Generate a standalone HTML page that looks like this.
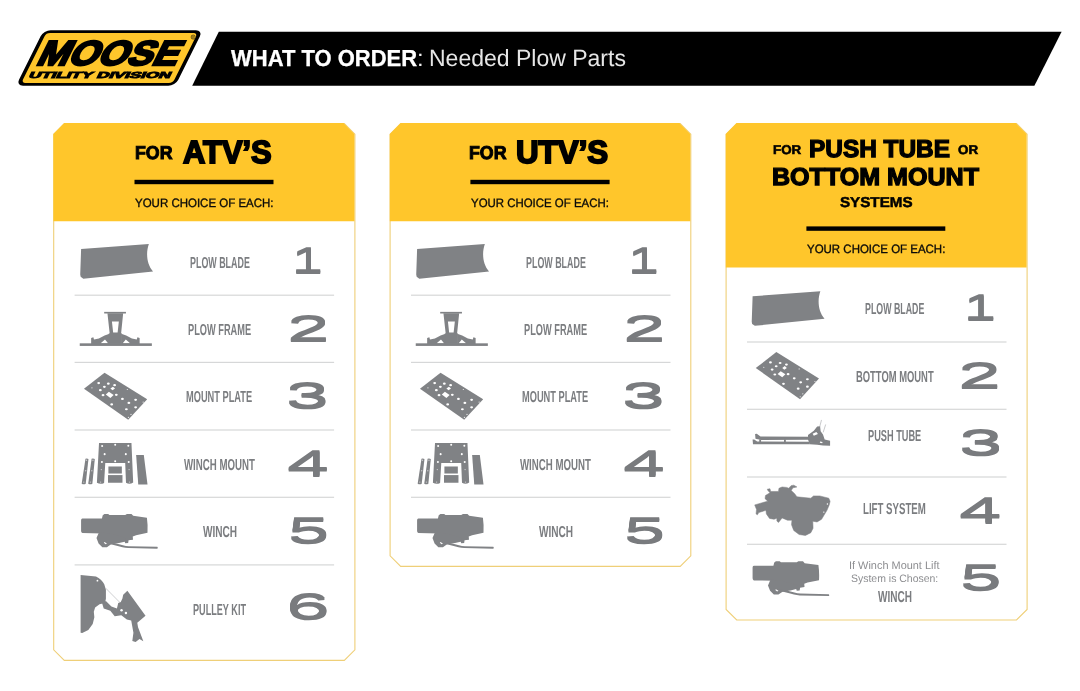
<!DOCTYPE html>
<html lang="en">
<head>
<meta charset="utf-8">
<title>What to Order: Needed Plow Parts</title>
<style>
h1,h2,ul,li,header,main,section,div{margin:0;padding:0;font-size:inherit;font-weight:inherit;list-style:none;}
html,body{margin:0;padding:0;background:#fff;}
body{width:1080px;height:691px;position:relative;overflow:hidden;font-family:"Liberation Sans", sans-serif;}
#page{position:absolute;left:0;top:0;width:1080px;height:691px;will-change:transform;}
#bg{position:absolute;left:0;top:0;width:1080px;height:691px;}
.t{position:absolute;white-space:pre;line-height:1;transform-origin:0 0;text-rendering:geometricPrecision;font-family:"Liberation Sans", sans-serif;font-weight:700;}
</style>
</head>
<body>
<svg id="bg" width="1080" height="691" viewBox="0 0 1080 691">
<polygon points="218.8,31.8 1061.6,31.8 1034.4,85.7 192.2,85.7" fill="#000"/>
<polygon points="64.3,123.6 344.3,123.6 354.9,134.2 354.9,649.8 344.3,660.4 64.3,660.4 53.7,649.8 53.7,134.2" fill="#fff" stroke="#efcf78" stroke-width="1.1"/>
<polygon points="64.3,123.1 343.5,123.1 354.4,134.0 354.4,221.3 53.4,221.3 53.4,134.0" fill="#ffc62b"/>
<rect x="134.5" y="179.8" width="139.0" height="4.4" fill="#000"/>
<rect x="74.6" y="294.6" width="259.5" height="1.2" fill="#d6d7d8"/>
<rect x="74.6" y="361.8" width="259.5" height="1.2" fill="#d6d7d8"/>
<rect x="74.6" y="429.4" width="259.5" height="1.2" fill="#d6d7d8"/>
<rect x="74.6" y="496.7" width="259.5" height="1.2" fill="#d6d7d8"/>
<rect x="74.6" y="564.3" width="259.5" height="1.2" fill="#d6d7d8"/>
<polygon points="400.7,123.6 680.2,123.6 690.8,134.2 690.8,555.8 680.2,566.4 400.7,566.4 390.1,555.8 390.1,134.2" fill="#fff" stroke="#efcf78" stroke-width="1.1"/>
<polygon points="400.7,123.1 679.4,123.1 690.3,134.0 690.3,221.3 389.8,221.3 389.8,134.0" fill="#ffc62b"/>
<rect x="470.4" y="179.8" width="139.2" height="4.4" fill="#000"/>
<rect x="411.0" y="294.6" width="259.5" height="1.2" fill="#d6d7d8"/>
<rect x="411.0" y="361.8" width="259.5" height="1.2" fill="#d6d7d8"/>
<rect x="411.0" y="429.4" width="259.5" height="1.2" fill="#d6d7d8"/>
<rect x="411.0" y="496.7" width="259.5" height="1.2" fill="#d6d7d8"/>
<polygon points="736.7,123.6 1016.5,123.6 1027.1,134.2 1027.1,609.4 1016.5,620.0 736.7,620.0 726.1,609.4 726.1,134.2" fill="#fff" stroke="#efcf78" stroke-width="1.1"/>
<polygon points="736.7,123.1 1015.7,123.1 1026.6,134.0 1026.6,267.6 725.8,267.6 725.8,134.0" fill="#ffc62b"/>
<rect x="806.4" y="226.4" width="138.9" height="4.4" fill="#000"/>
<rect x="747.0" y="341.4" width="259.5" height="1.2" fill="#d6d7d8"/>
<rect x="747.0" y="408.7" width="259.5" height="1.2" fill="#d6d7d8"/>
<rect x="747.0" y="476.4" width="259.5" height="1.2" fill="#d6d7d8"/>
<rect x="747.0" y="543.7" width="259.5" height="1.2" fill="#d6d7d8"/>
<g transform="translate(0 85.7) skewX(-26.5) translate(0 -85.7)"><rect x="16.0" y="30.3" width="159.3" height="55.400000000000006" rx="7" ry="6" fill="#000"/><rect x="19.9" y="33.1" width="151.5" height="49.800000000000004" rx="4" ry="3.4" fill="#ffc62b"/></g><circle cx="193.2" cy="37.1" r="2.1" fill="none" stroke="#6b5410" stroke-width="0.8"/>
<g transform="translate(70 235) scale(0.08889)" fill="#808285"><path d="M125,158 L887,102 C852,200 862,330 934,410 L150,491 L120,470 L115,445 Z"/></g>
<g transform="translate(72 306) scale(0.08148)" fill="#808285"><rect x="95" y="458" width="885" height="32"/><rect x="395" y="72" width="267" height="20"/><path fill-rule="evenodd" d="M435,88 L628,88 L602,345 L463,345 Z M490,190 L575,190 L560,325 L505,325 Z"/><rect x="452" y="336" width="160" height="130"/><path fill-rule="evenodd" d="M235,465 L235,392 L262,385 L270,412 L330,398 L400,362 L460,342 L460,465 Z M352,458 L405,412 L442,458 Z"/><path fill-rule="evenodd" d="M830,465 L830,392 L803,385 L795,412 L735,398 L665,362 L605,342 L605,465 Z M713,458 L660,412 L623,458 Z"/></g>
<g transform="translate(76 366) scale(0.08395)" fill="#808285"><path d="M95,270 L340,80 L848,395 L622,640 Z"/><ellipse cx="270" cy="203" rx="17" ry="13" fill="#fff"/><ellipse cx="385" cy="210" rx="17" ry="13" fill="#fff"/><ellipse cx="460" cy="228" rx="17" ry="13" fill="#fff"/><ellipse cx="338" cy="248" rx="17" ry="13" fill="#fff"/><ellipse cx="290" cy="288" rx="17" ry="13" fill="#fff"/><ellipse cx="322" cy="347" rx="17" ry="13" fill="#fff"/><ellipse cx="480" cy="343" rx="17" ry="13" fill="#fff"/><ellipse cx="553" cy="392" rx="17" ry="13" fill="#fff"/><ellipse cx="425" cy="458" rx="17" ry="13" fill="#fff"/><ellipse cx="630" cy="440" rx="17" ry="13" fill="#fff"/><ellipse cx="710" cy="403" rx="17" ry="13" fill="#fff"/><ellipse cx="710" cy="492" rx="17" ry="13" fill="#fff"/><ellipse cx="600" cy="515" rx="17" ry="13" fill="#fff"/><ellipse cx="612" cy="280" rx="8" ry="7" fill="#fff" opacity="0.8"/><ellipse cx="655" cy="577" rx="8" ry="7" fill="#fff" opacity="0.8"/><ellipse cx="625" cy="612" rx="8" ry="7" fill="#fff" opacity="0.8"/><ellipse cx="800" cy="430" rx="8" ry="7" fill="#fff" opacity="0.8"/><ellipse cx="190" cy="260" rx="8" ry="7" fill="#fff" opacity="0.8"/><path d="M410,268 L440,246 L465,268 L435,290 Z" fill="#fff"/><path d="M355,340 L392,308 L448,345 L410,380 Z" fill="#fff"/></g>
<g transform="translate(74 436) scale(0.07817)" fill="#808285"><path d="M147,292 Q165,285 185,294 L150,610 Q125,625 98,610 Z"/><path d="M225,292 Q245,285 266,294 L235,610 Q210,625 182,610 Z"/><path d="M320,90 L735,90 L757,595 Q712,625 665,598 L655,345 L400,345 L385,600 Q340,625 293,598 Z"/><rect x="440" y="390" width="172" height="90"/><rect x="435" y="500" width="185" height="98"/><path d="M795,243 L893,243 L940,622 L822,622 Z"/><circle cx="360" cy="127" r="13" fill="#fff"/><circle cx="527" cy="112" r="13" fill="#fff"/><circle cx="695" cy="125" r="13" fill="#fff"/><circle cx="392" cy="232" r="13" fill="#fff"/><circle cx="663" cy="232" r="13" fill="#fff"/><circle cx="357" cy="332" r="13" fill="#fff"/><circle cx="527" cy="322" r="13" fill="#fff"/><circle cx="700" cy="332" r="13" fill="#fff"/><circle cx="350" cy="430" r="9" fill="#c9cacc"/><circle cx="705" cy="430" r="9" fill="#c9cacc"/><circle cx="340" cy="590" r="9" fill="#c9cacc"/><circle cx="710" cy="590" r="9" fill="#c9cacc"/><circle cx="125" cy="590" r="9" fill="#c9cacc"/><circle cx="210" cy="590" r="9" fill="#c9cacc"/><circle cx="150" cy="445" r="9" fill="#c9cacc"/><circle cx="228" cy="445" r="9" fill="#c9cacc"/><circle cx="160" cy="310" r="9" fill="#c9cacc"/><circle cx="243" cy="310" r="9" fill="#c9cacc"/></g>
<g transform="translate(74 506) scale(0.08333)" fill="#808285"><path d="M100,150 L335,150 L345,110 L365,95 L410,95 L425,108 L615,108 L635,95 L690,95 L710,118 L875,140 Q888,230 882,322 L745,350 L705,365 L708,405 L655,412 L650,445 L615,448 L605,420 L500,422 L430,400 L340,330 L100,325 Q85,320 85,300 L85,170 Q85,152 100,150 Z"/><path d="M300,315 L270,385 L295,450 L340,495 L395,495 L445,460 L540,445 L620,425 L620,380 L440,330 Z"/><path d="M360,425 C480,430 560,475 660,482 L1000,490 Q1012,500 1000,512 L650,505 C560,500 470,455 360,450 Z"/><path d="M365,432 L395,450 L380,458 L358,440 Z" fill="#fff"/></g>
<g transform="translate(74 570) scale(0.11004)" fill="#808285"><path d="M60,45 L200,60 Q250,85 275,130 L290,180 L290,262 L282,300 L232,312 L192,340 L180,380 L185,430 L170,490 L130,545 L75,572 L60,570 Z"/><path d="M255,300 L290,282 L340,332 L390,350 L402,300 L425,290 L440,260 L447,225 L485,188 L650,415 L575,480 L582,520 L630,648 L595,628 L560,655 L530,645 L540,570 L520,460 L480,450 L430,412 L370,420 L330,370 L270,350 Z"/><path d="M288,165 L420,298" stroke="#a5a7aa" stroke-width="5" fill="none"/><circle cx="432" cy="365" r="11" fill="#fff"/><circle cx="472" cy="390" r="11" fill="#fff"/><circle cx="213" cy="97" r="8" fill="#fff"/></g>
<g transform="translate(406 235) scale(0.08889)" fill="#808285"><path d="M125,158 L887,102 C852,200 862,330 934,410 L150,491 L120,470 L115,445 Z"/></g>
<g transform="translate(408 306) scale(0.08148)" fill="#808285"><rect x="95" y="458" width="885" height="32"/><rect x="395" y="72" width="267" height="20"/><path fill-rule="evenodd" d="M435,88 L628,88 L602,345 L463,345 Z M490,190 L575,190 L560,325 L505,325 Z"/><rect x="452" y="336" width="160" height="130"/><path fill-rule="evenodd" d="M235,465 L235,392 L262,385 L270,412 L330,398 L400,362 L460,342 L460,465 Z M352,458 L405,412 L442,458 Z"/><path fill-rule="evenodd" d="M830,465 L830,392 L803,385 L795,412 L735,398 L665,362 L605,342 L605,465 Z M713,458 L660,412 L623,458 Z"/></g>
<g transform="translate(412 366) scale(0.08395)" fill="#808285"><path d="M95,270 L340,80 L848,395 L622,640 Z"/><ellipse cx="270" cy="203" rx="17" ry="13" fill="#fff"/><ellipse cx="385" cy="210" rx="17" ry="13" fill="#fff"/><ellipse cx="460" cy="228" rx="17" ry="13" fill="#fff"/><ellipse cx="338" cy="248" rx="17" ry="13" fill="#fff"/><ellipse cx="290" cy="288" rx="17" ry="13" fill="#fff"/><ellipse cx="322" cy="347" rx="17" ry="13" fill="#fff"/><ellipse cx="480" cy="343" rx="17" ry="13" fill="#fff"/><ellipse cx="553" cy="392" rx="17" ry="13" fill="#fff"/><ellipse cx="425" cy="458" rx="17" ry="13" fill="#fff"/><ellipse cx="630" cy="440" rx="17" ry="13" fill="#fff"/><ellipse cx="710" cy="403" rx="17" ry="13" fill="#fff"/><ellipse cx="710" cy="492" rx="17" ry="13" fill="#fff"/><ellipse cx="600" cy="515" rx="17" ry="13" fill="#fff"/><ellipse cx="612" cy="280" rx="8" ry="7" fill="#fff" opacity="0.8"/><ellipse cx="655" cy="577" rx="8" ry="7" fill="#fff" opacity="0.8"/><ellipse cx="625" cy="612" rx="8" ry="7" fill="#fff" opacity="0.8"/><ellipse cx="800" cy="430" rx="8" ry="7" fill="#fff" opacity="0.8"/><ellipse cx="190" cy="260" rx="8" ry="7" fill="#fff" opacity="0.8"/><path d="M410,268 L440,246 L465,268 L435,290 Z" fill="#fff"/><path d="M355,340 L392,308 L448,345 L410,380 Z" fill="#fff"/></g>
<g transform="translate(410 436) scale(0.07817)" fill="#808285"><path d="M147,292 Q165,285 185,294 L150,610 Q125,625 98,610 Z"/><path d="M225,292 Q245,285 266,294 L235,610 Q210,625 182,610 Z"/><path d="M320,90 L735,90 L757,595 Q712,625 665,598 L655,345 L400,345 L385,600 Q340,625 293,598 Z"/><rect x="440" y="390" width="172" height="90"/><rect x="435" y="500" width="185" height="98"/><path d="M795,243 L893,243 L940,622 L822,622 Z"/><circle cx="360" cy="127" r="13" fill="#fff"/><circle cx="527" cy="112" r="13" fill="#fff"/><circle cx="695" cy="125" r="13" fill="#fff"/><circle cx="392" cy="232" r="13" fill="#fff"/><circle cx="663" cy="232" r="13" fill="#fff"/><circle cx="357" cy="332" r="13" fill="#fff"/><circle cx="527" cy="322" r="13" fill="#fff"/><circle cx="700" cy="332" r="13" fill="#fff"/><circle cx="350" cy="430" r="9" fill="#c9cacc"/><circle cx="705" cy="430" r="9" fill="#c9cacc"/><circle cx="340" cy="590" r="9" fill="#c9cacc"/><circle cx="710" cy="590" r="9" fill="#c9cacc"/><circle cx="125" cy="590" r="9" fill="#c9cacc"/><circle cx="210" cy="590" r="9" fill="#c9cacc"/><circle cx="150" cy="445" r="9" fill="#c9cacc"/><circle cx="228" cy="445" r="9" fill="#c9cacc"/><circle cx="160" cy="310" r="9" fill="#c9cacc"/><circle cx="243" cy="310" r="9" fill="#c9cacc"/></g>
<g transform="translate(410 506) scale(0.08333)" fill="#808285"><path d="M100,150 L335,150 L345,110 L365,95 L410,95 L425,108 L615,108 L635,95 L690,95 L710,118 L875,140 Q888,230 882,322 L745,350 L705,365 L708,405 L655,412 L650,445 L615,448 L605,420 L500,422 L430,400 L340,330 L100,325 Q85,320 85,300 L85,170 Q85,152 100,150 Z"/><path d="M300,315 L270,385 L295,450 L340,495 L395,495 L445,460 L540,445 L620,425 L620,380 L440,330 Z"/><path d="M360,425 C480,430 560,475 660,482 L1000,490 Q1012,500 1000,512 L650,505 C560,500 470,455 360,450 Z"/><path d="M365,432 L395,450 L380,458 L358,440 Z" fill="#fff"/></g>
<g transform="translate(741.5 282.2) scale(0.08889)" fill="#808285"><path d="M125,158 L887,102 C852,200 862,330 934,410 L150,491 L120,470 L115,445 Z"/></g>
<g transform="translate(747.8 345.4) scale(0.08395)" fill="#808285"><path d="M95,270 L340,80 L848,395 L622,640 Z"/><ellipse cx="270" cy="203" rx="17" ry="13" fill="#fff"/><ellipse cx="385" cy="210" rx="17" ry="13" fill="#fff"/><ellipse cx="460" cy="228" rx="17" ry="13" fill="#fff"/><ellipse cx="338" cy="248" rx="17" ry="13" fill="#fff"/><ellipse cx="290" cy="288" rx="17" ry="13" fill="#fff"/><ellipse cx="322" cy="347" rx="17" ry="13" fill="#fff"/><ellipse cx="480" cy="343" rx="17" ry="13" fill="#fff"/><ellipse cx="553" cy="392" rx="17" ry="13" fill="#fff"/><ellipse cx="425" cy="458" rx="17" ry="13" fill="#fff"/><ellipse cx="630" cy="440" rx="17" ry="13" fill="#fff"/><ellipse cx="710" cy="403" rx="17" ry="13" fill="#fff"/><ellipse cx="710" cy="492" rx="17" ry="13" fill="#fff"/><ellipse cx="600" cy="515" rx="17" ry="13" fill="#fff"/><ellipse cx="612" cy="280" rx="8" ry="7" fill="#fff" opacity="0.8"/><ellipse cx="655" cy="577" rx="8" ry="7" fill="#fff" opacity="0.8"/><ellipse cx="625" cy="612" rx="8" ry="7" fill="#fff" opacity="0.8"/><ellipse cx="800" cy="430" rx="8" ry="7" fill="#fff" opacity="0.8"/><ellipse cx="190" cy="260" rx="8" ry="7" fill="#fff" opacity="0.8"/><path d="M410,268 L440,246 L465,268 L435,290 Z" fill="#fff"/><path d="M355,340 L392,308 L448,345 L410,380 Z" fill="#fff"/></g>
<g transform="translate(748 412) scale(0.08333)" fill="#808285"><path d="M85,265 L105,262 L150,295 L740,298 L740,332 L160,335 L90,320 Z"/><path d="M55,330 L75,330 L110,355 L740,358 L740,387 L60,387 Z"/><rect x="135" y="328" width="22" height="34"/><rect x="432" y="328" width="22" height="34"/><path fill-rule="evenodd" d="M720,275 L790,225 L830,175 L865,170 L872,230 L900,270 L920,330 L985,345 L985,405 L900,402 L830,392 L740,387 L720,330 Z M775,262 L820,240 L840,265 L790,285 Z M865,355 L895,360 L890,375 L862,370 Z"/><path d="M882,95 L860,180 M932,150 L902,245" stroke="#a0a2a5" stroke-width="7" fill="none"/></g>
<g transform="translate(748 478) scale(0.08973)" fill="#808285"><path d="M75,300 L220,258 L190,230 L195,195 L245,165 L222,140 L215,125 L245,120 L252,150 L340,150 L345,115 L380,100 L430,105 L455,115 L480,85 L510,80 L545,100 L500,110 L482,140 L520,175 L545,210 L700,225 L730,200 L800,200 L900,225 L915,260 L905,300 L880,360 L850,410 L820,460 L770,490 L722,482 L725,560 L700,610 L640,640 L570,630 L510,585 L485,520 L490,470 L440,470 L380,445 L340,495 L322,480 L322,448 L290,460 L240,450 L205,400 L200,360 L120,385 L105,410 L90,400 L95,350 Z" stroke="#808285" stroke-width="6" stroke-linejoin="round"/><circle cx="885" cy="290" r="8" fill="#fff"/><circle cx="845" cy="380" r="8" fill="#fff"/></g>
<g transform="translate(745.5 553.3) scale(0.08333)" fill="#808285"><path d="M100,150 L335,150 L345,110 L365,95 L410,95 L425,108 L615,108 L635,95 L690,95 L710,118 L875,140 Q888,230 882,322 L745,350 L705,365 L708,405 L655,412 L650,445 L615,448 L605,420 L500,422 L430,400 L340,330 L100,325 Q85,320 85,300 L85,170 Q85,152 100,150 Z"/><path d="M300,315 L270,385 L295,450 L340,495 L395,495 L445,460 L540,445 L620,425 L620,380 L440,330 Z"/><path d="M360,425 C480,430 560,475 660,482 L1000,490 Q1012,500 1000,512 L650,505 C560,500 470,455 360,450 Z"/><path d="M365,432 L395,450 L380,458 L358,440 Z" fill="#fff"/></g>
</svg>
<div id="page">
<header>
<div class="logo"><span class="t" style="left:34.89px;top:36.65px;font-size:34.70px;color:#000;transform-origin:0 28.00px;transform:skewX(-26.5deg) scaleX(1.0904);-webkit-text-stroke:2.3px #000;">MOOSE</span>
<span class="t" style="left:28.37px;top:71.05px;font-size:8.82px;color:#000;transform-origin:0 7.00px;transform:skewX(-26.5deg) scaleX(1.9116);-webkit-text-stroke:0.9px #000;">UTILITY DIVISION</span>
<span class="t" style="left:191.11px;top:36.00px;font-size:5.69px;color:#5a4a10;transform:scaleX(0.9781);">®</span></div>
<h1><span class="t" style="left:230.54px;top:46.95px;font-size:23.18px;color:#fff;transform:scaleX(0.9489);-webkit-text-stroke:0.3px #fff;">WHAT TO ORDER</span>
<span class="t" style="left:417.34px;top:47.10px;font-size:23.15px;font-weight:400;color:#f0f0f0;transform:scaleX(1.0268);">:</span>
<span class="t" style="left:428.80px;top:47.10px;font-size:23.47px;font-weight:400;color:#e6e6e6;transform:scaleX(0.9801);">Needed Plow Parts</span></h1>
</header>
<main>
<section class="card">
<h2><span class="t" style="left:134.77px;top:144.10px;font-size:18.63px;color:#000;transform:scaleX(0.9535);-webkit-text-stroke:1.0px #000;">FOR</span>
<span class="t" style="left:182.63px;top:136.45px;font-size:32.00px;color:#000;transform:scaleX(0.9652);-webkit-text-stroke:1.9px #000;">ATV’S</span>
<span class="t" style="left:135.29px;top:196.72px;font-size:12.16px;font-weight:400;color:#0a0a0a;transform:scaleX(0.9453);-webkit-text-stroke:0.35px #0a0a0a;">YOUR CHOICE OF EACH:</span></h2>
<ul>
<li><span class="t" style="left:189.94px;top:255.65px;font-size:15.93px;color:#7b7d80;transform:scaleX(0.5593);">PLOW BLADE</span>
<span class="t" style="left:292.32px;top:242.85px;font-size:35.98px;font-weight:400;color:#797b7e;transform:scaleX(1.5457);text-shadow:0 1.0px 0 #797b7e,0 -1.0px 0 #797b7e;">1</span></li>
<li><span class="t" style="left:188.02px;top:322.90px;font-size:15.93px;color:#7b7d80;transform:scaleX(0.5799);">PLOW FRAME</span>
<span class="t" style="left:286.50px;top:311.05px;font-size:35.98px;font-weight:400;color:#797b7e;transform:scaleX(2.1345);text-shadow:0 1.0px 0 #797b7e,0 -1.0px 0 #797b7e;">2</span></li>
<li><span class="t" style="left:186.42px;top:390.30px;font-size:15.93px;color:#7b7d80;transform:scaleX(0.5807);">MOUNT PLATE</span>
<span class="t" style="left:286.39px;top:378.45px;font-size:35.98px;font-weight:400;color:#797b7e;transform:scaleX(2.1403);text-shadow:0 1.0px 0 #797b7e,0 -1.0px 0 #797b7e;">3</span></li>
<li><span class="t" style="left:184.10px;top:457.90px;font-size:15.93px;color:#7b7d80;transform:scaleX(0.6071);">WINCH MOUNT</span>
<span class="t" style="left:287.12px;top:445.90px;font-size:35.98px;font-weight:400;color:#797b7e;transform:scaleX(2.0968);text-shadow:0 1.0px 0 #797b7e,0 -1.0px 0 #797b7e;">4</span></li>
<li><span class="t" style="left:202.90px;top:525.30px;font-size:15.93px;color:#7b7d80;transform:scaleX(0.6330);">WINCH</span>
<span class="t" style="left:287.68px;top:513.15px;font-size:35.98px;font-weight:400;color:#797b7e;transform:scaleX(2.0657);text-shadow:0 1.0px 0 #797b7e,0 -1.0px 0 #797b7e;">5</span></li>
<li><span class="t" style="left:192.93px;top:602.70px;font-size:15.93px;color:#7b7d80;transform:scaleX(0.5723);">PULLEY KIT</span>
<span class="t" style="left:285.90px;top:589.05px;font-size:35.98px;font-weight:400;color:#797b7e;transform:scaleX(2.1938);text-shadow:0 1.0px 0 #797b7e,0 -1.0px 0 #797b7e;">6</span></li>
</ul>
</section>
<section class="card">
<h2><span class="t" style="left:469.37px;top:144.10px;font-size:18.63px;color:#000;transform:scaleX(0.9535);-webkit-text-stroke:1.0px #000;">FOR</span>
<span class="t" style="left:516.16px;top:136.45px;font-size:32.00px;color:#000;transform:scaleX(0.9788);-webkit-text-stroke:1.9px #000;">UTV’S</span>
<span class="t" style="left:471.49px;top:196.72px;font-size:12.16px;font-weight:400;color:#0a0a0a;transform:scaleX(0.9405);-webkit-text-stroke:0.35px #0a0a0a;">YOUR CHOICE OF EACH:</span></h2>
<ul>
<li><span class="t" style="left:525.94px;top:255.65px;font-size:15.93px;color:#7b7d80;transform:scaleX(0.5593);">PLOW BLADE</span>
<span class="t" style="left:628.32px;top:242.85px;font-size:35.98px;font-weight:400;color:#797b7e;transform:scaleX(1.5457);text-shadow:0 1.0px 0 #797b7e,0 -1.0px 0 #797b7e;">1</span></li>
<li><span class="t" style="left:524.02px;top:322.90px;font-size:15.93px;color:#7b7d80;transform:scaleX(0.5799);">PLOW FRAME</span>
<span class="t" style="left:622.50px;top:311.05px;font-size:35.98px;font-weight:400;color:#797b7e;transform:scaleX(2.1345);text-shadow:0 1.0px 0 #797b7e,0 -1.0px 0 #797b7e;">2</span></li>
<li><span class="t" style="left:522.42px;top:390.30px;font-size:15.93px;color:#7b7d80;transform:scaleX(0.5807);">MOUNT PLATE</span>
<span class="t" style="left:622.39px;top:378.45px;font-size:35.98px;font-weight:400;color:#797b7e;transform:scaleX(2.1403);text-shadow:0 1.0px 0 #797b7e,0 -1.0px 0 #797b7e;">3</span></li>
<li><span class="t" style="left:520.10px;top:457.90px;font-size:15.93px;color:#7b7d80;transform:scaleX(0.6071);">WINCH MOUNT</span>
<span class="t" style="left:623.12px;top:445.90px;font-size:35.98px;font-weight:400;color:#797b7e;transform:scaleX(2.0968);text-shadow:0 1.0px 0 #797b7e,0 -1.0px 0 #797b7e;">4</span></li>
<li><span class="t" style="left:538.90px;top:525.30px;font-size:15.93px;color:#7b7d80;transform:scaleX(0.6330);">WINCH</span>
<span class="t" style="left:623.68px;top:513.15px;font-size:35.98px;font-weight:400;color:#797b7e;transform:scaleX(2.0657);text-shadow:0 1.0px 0 #797b7e,0 -1.0px 0 #797b7e;">5</span></li>
</ul>
</section>
<section class="card">
<h2><span class="t" style="left:773.28px;top:143.70px;font-size:12.66px;color:#000;transform:scaleX(1.0536);-webkit-text-stroke:0.6px #000;">FOR</span>
<span class="t" style="left:809.12px;top:138.35px;font-size:24.46px;color:#000;transform:scaleX(0.9981);-webkit-text-stroke:1.3px #000;">PUSH TUBE</span>
<span class="t" style="left:957.50px;top:143.70px;font-size:12.66px;color:#000;transform:scaleX(1.0552);-webkit-text-stroke:0.6px #000;">OR</span>
<span class="t" style="left:772.30px;top:166.05px;font-size:24.46px;color:#000;transform:scaleX(1.0251);-webkit-text-stroke:1.3px #000;">BOTTOM MOUNT</span>
<span class="t" style="left:839.93px;top:196.35px;font-size:14.36px;color:#000;transform:scaleX(1.0566);-webkit-text-stroke:0.5px #000;">SYSTEMS</span>
<span class="t" style="left:807.29px;top:243.22px;font-size:12.16px;font-weight:400;color:#0a0a0a;transform:scaleX(0.9439);-webkit-text-stroke:0.35px #0a0a0a;">YOUR CHOICE OF EACH:</span></h2>
<ul>
<li><span class="t" style="left:864.75px;top:302.40px;font-size:15.93px;color:#7b7d80;transform:scaleX(0.5546);">PLOW BLADE</span>
<span class="t" style="left:964.00px;top:289.95px;font-size:35.98px;font-weight:400;color:#797b7e;transform:scaleX(1.6009);text-shadow:0 1.0px 0 #797b7e,0 -1.0px 0 #797b7e;">1</span></li>
<li><span class="t" style="left:855.61px;top:369.65px;font-size:15.93px;color:#7b7d80;transform:scaleX(0.5906);">BOTTOM MOUNT</span>
<span class="t" style="left:958.07px;top:357.65px;font-size:35.98px;font-weight:400;color:#797b7e;transform:scaleX(2.1523);text-shadow:0 1.0px 0 #797b7e,0 -1.0px 0 #797b7e;">2</span></li>
<li><span class="t" style="left:868.02px;top:429.25px;font-size:15.93px;color:#7b7d80;transform:scaleX(0.5782);">PUSH TUBE</span>
<span class="t" style="left:958.55px;top:425.45px;font-size:35.98px;font-weight:400;color:#797b7e;transform:scaleX(2.1747);text-shadow:0 1.0px 0 #797b7e,0 -1.0px 0 #797b7e;">3</span></li>
<li><span class="t" style="left:863.20px;top:502.30px;font-size:15.93px;color:#7b7d80;transform:scaleX(0.6075);">LIFT SYSTEM</span>
<span class="t" style="left:958.91px;top:492.95px;font-size:35.98px;font-weight:400;color:#797b7e;transform:scaleX(2.1237);text-shadow:0 1.0px 0 #797b7e,0 -1.0px 0 #797b7e;">4</span></li>
<li><span class="t" style="left:848.75px;top:560.90px;font-size:11.09px;font-weight:400;color:#8c8d90;transform:scaleX(0.9868);">If Winch Mount Lift</span>
<span class="t" style="left:851.17px;top:573.70px;font-size:10.81px;font-weight:400;color:#8c8d90;transform:scaleX(0.9696);">System is Chosen:</span>
<span class="t" style="left:878.00px;top:589.60px;font-size:15.93px;color:#7b7d80;transform:scaleX(0.6292);">WINCH</span>
<span class="t" style="left:959.56px;top:559.65px;font-size:35.98px;font-weight:400;color:#797b7e;transform:scaleX(2.0829);text-shadow:0 1.0px 0 #797b7e,0 -1.0px 0 #797b7e;">5</span></li>
</ul>
</section>
</main>
</div>
</body>
</html>
